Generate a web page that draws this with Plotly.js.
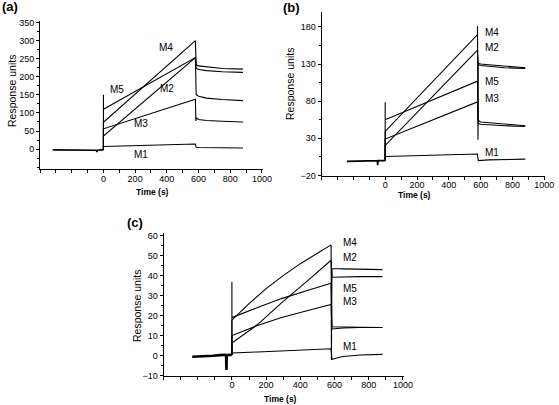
<!DOCTYPE html>
<html><head><meta charset="utf-8">
<script src="https://cdn.plot.ly/plotly-3.0.1.min.js"></script>
<style>html,body{margin:0;padding:0;background:#fff;overflow:hidden;width:559px;height:405px}#chart{width:559px;height:405px;overflow:hidden}</style>
</head><body><div id="chart"></div>
<script>
// ---------- Panel (a) data ----------
const tBaseA = [-320, -200, -100, -45, -41, -37, -10, 0];
const yBaseA = [-2, -2, -2, -3, -8, -3, -2, -2];
const tA_M1 = [0, 0, 580, 585, 600, 650, 750, 880];
const yA_M1 = [-2, 7, 14, 5, 4.5, 4, 3.5, 3];
const tA_M2 = [0, 0, 580, 585, 600, 650, 750, 880];
const yA_M2 = [-2, 36, 253, 151, 146, 141, 137, 134];
const tA_M3 = [0, 0, 580, 583, 587, 600, 650, 750, 880];
const yA_M3 = [-2, 56, 138, 78, 86, 82, 79, 77, 75];
const tA_M4 = [0, 0, 580, 585, 600, 650, 750, 880];
const yA_M4 = [-2, 74, 300, 233, 230, 227, 223, 221];
const tA_M5 = [0, 0, 0, 580, 585, 600, 650, 750, 880];
const yA_M5 = [-2, 150, 110, 253, 223, 220, 217, 214, 212];

// ---------- Panel (b) data ----------
const tBaseB = [-240, -150, -80, -50, -47, -44, -10, 0];
const yBaseB = [-1, -0.5, 0, 0, -6, 0, 0, 0];
const tB_M1 = [0, 0, 580, 585, 650, 750, 880];
const yB_M1 = [0, 5.6, 9, 0, 1, 1.5, 2];
const tB_M2 = [0, 0, 580, 585, 600, 650, 750, 880];
const yB_M2 = [0, 20.5, 148.6, 129, 128, 127, 125, 124];
const tB_M3 = [0, 0, 580, 585, 600, 650, 750, 880];
const yB_M3 = [0, 29, 79, 50, 49, 48, 47, 46];
const tB_M4 = [0, 0, 580, 580, 583, 585, 600, 650, 750, 880];
const yB_M4 = [0, 39.4, 169.7, 181, 28, 131, 130, 129, 127, 125];
const tB_M5 = [0, 0, 0, 580, 585, 600, 650, 750, 880];
const yB_M5 = [0, 78.5, 55, 107, 54, 52, 51, 49, 47];

// ---------- Panel (c) data ----------
const tBaseC = [-232, -190, -150, -110, -70, -40, -34, -32, -30, -15, 0];
const yBaseC = [-0.6, -0.5, -0.3, -0.1, 0.2, 0.4, 0, -7.2, 0.2, 0.4, 0.3];
const tC_M1 = [0, 0, 150, 300, 450, 580, 585, 600, 650, 750, 880];
const yC_M1 = [0.3, 1.3, 1.8, 2.3, 2.9, 3.4, -2, -1.5, -0.5, 0.3, 0.6];
const tC_M2 = [0, 0, 150, 290, 450, 580, 585, 650, 750, 880];
const yC_M2 = [0.3, 6.2, 15.5, 26.4, 38, 47.7, 39.2, 39.4, 39.5, 39.5];
const tC_M3 = [0, 0, 150, 290, 450, 580, 585, 650, 750, 880];
const yC_M3 = [0.3, 10, 15, 19, 22.7, 25.6, 13.3, 13.8, 14, 14];
const tC_M4 = [0, 0, 100, 200, 300, 400, 500, 580, 582, 585, 650, 750, 880];
const yC_M4 = [0.3, 17.7, 26, 33.5, 40, 46, 51.2, 55.4, -2.3, 43.6, 43.4, 43.2, 43];
const tC_M5 = [0, 0, 0, 150, 290, 450, 580, 585, 650, 750, 880];
const yC_M5 = [0.3, 37, 19, 24, 28.5, 32.8, 36.2, 14.4, 14.2, 14.1, 14];

// ---------- Labels ----------
const xTickVals = [-400, -300, -200, -100, 0, 100, 200, 300, 400, 500, 600, 700, 800, 900, 1000];
const xTickText = ['', '', '', '', '0', '', '200', '', '400', '', '600', '', '800', '', '1000'];
const yTicksA = [0, 50, 100, 150, 200, 250, 300, 350];
const yTicksB = [-20, 30, 80, 130, 180];
const yTicksC = [-10, 0, 10, 20, 30, 40, 50, 60];
const seriesNames = ['M1', 'M2', 'M3', 'M4', 'M5'];
// label anchors per panel [t, value] for M1..M5
const labA = [[236, -14], [401, 167], [239, 70], [395, 281], [86, 166]];
const labB = [[615, 11], [615, 152.6], [615, 83.6], [615, 172], [615, 106]];
const labC = [[635, 4.6], [635, 49.2], [635, 27.3], [635, 56.6], [635, 33.5]];

const FONT = 'Arial, "Liberation Sans", sans-serif';

function tr(x, y, xa, ya, w) {
  return {x: x, y: y, xaxis: xa, yaxis: ya, type: 'scatter', mode: 'lines',
          line: {color: '#000', width: w || 1.1}, hoverinfo: 'skip', showlegend: false};
}

const traces = [
  tr(tBaseA, yBaseA, 'x', 'y', 1.6),
  tr(tA_M1, yA_M1, 'x', 'y'), tr(tA_M2, yA_M2, 'x', 'y'), tr(tA_M3, yA_M3, 'x', 'y'),
  tr(tA_M4, yA_M4, 'x', 'y'), tr(tA_M5, yA_M5, 'x', 'y'),
  tr(tBaseB, yBaseB, 'x2', 'y2', 1.6),
  tr(tB_M1, yB_M1, 'x2', 'y2'), tr(tB_M2, yB_M2, 'x2', 'y2'), tr(tB_M3, yB_M3, 'x2', 'y2'),
  tr(tB_M4, yB_M4, 'x2', 'y2'), tr(tB_M5, yB_M5, 'x2', 'y2'),
  tr(tBaseC, yBaseC, 'x3', 'y3', 2.6),
  tr(tC_M1, yC_M1, 'x3', 'y3'), tr(tC_M2, yC_M2, 'x3', 'y3'), tr(tC_M3, yC_M3, 'x3', 'y3'),
  tr(tC_M4, yC_M4, 'x3', 'y3'), tr(tC_M5, yC_M5, 'x3', 'y3')
];

function xax(domain, anchor) {
  return {domain: domain, anchor: anchor, range: [-400, 1004], tickmode: 'array',
          tickvals: xTickVals, ticktext: xTickText, ticks: 'outside', ticklen: 3,
          tickcolor: '#000', showline: true, linecolor: '#000', linewidth: 1,
          ticklabelstandoff: -2, ticklabeloverflow: 'allow', automargin: false,
          showgrid: false, zeroline: false, tickfont: {family: FONT, size: 9, color: '#000'}};
}
function yax(domain, anchor, range, vals, minorStep) {
  return {domain: domain, anchor: anchor, range: range, tickmode: 'array', tickvals: vals,
          ticks: 'outside', ticklen: 3, tickcolor: '#000', showline: true, linecolor: '#000',
          linewidth: 1, showgrid: false, zeroline: false, automargin: false,
          minor: {tickmode: 'linear', tick0: vals[0], dtick: minorStep, ticks: 'outside', ticklen: 2, tickcolor: '#000', showgrid: false},
          tickfont: {family: FONT, size: 9, color: '#000'}};
}

const W = 559, H = 405;
function px(x) { return x / W; }
function py(y) { return 1 - y / H; }

const ann = [];
function txt(x, y, text, size, bold, angle, xanchor) {
  ann.push({xref: 'paper', yref: 'paper', x: px(x), y: py(y), text: bold ? '<b>' + text + '</b>' : text,
            showarrow: false, textangle: angle || 0, xanchor: xanchor || 'center', yanchor: 'middle',
            font: {family: FONT, size: size, color: '#000'}});
}
txt(0, 7, '(a)', 13, true, 0, 'left');
txt(281, 8, '(b)', 13, true, 0, 'left');
txt(125, 222, '(c)', 13, true, 0, 'left');
txt(12, 91, 'Response units', 10.5, false, -90);
txt(290, 84, 'Response units', 10.5, false, -90);
txt(137, 306, 'Response units', 10.5, false, -90);
txt(152, 192, 'Time (s)', 8.5, true);
txt(414, 195, 'Time (s)', 8.5, true);
txt(280, 399, 'Time (s)', 8.5, true);

function mlabels(list, xr, yr, anchor) {
  list.forEach((p, i) => ann.push({xref: xr, yref: yr, x: p[0], y: p[1], text: seriesNames[i],
    showarrow: false, xanchor: anchor, yanchor: 'middle', font: {family: FONT, size: 10, color: '#000'}}));
}
mlabels(labA, 'x', 'y', 'center');
mlabels(labB, 'x2', 'y2', 'left');
mlabels(labC, 'x3', 'y3', 'left');

const layout = {
  width: W, height: H, margin: {l: 0, r: 0, t: 0, b: 0},
  paper_bgcolor: '#fff', plot_bgcolor: 'rgba(0,0,0,0)', showlegend: false,
  xaxis: xax([px(40), px(262.6)], 'y'),
  yaxis: yax([py(169), py(20.7)], 'x', [-55, 355], yTicksA, 25),
  xaxis2: xax([px(321.5), px(545)], 'y2'),
  yaxis2: yax([py(175.5), py(12)], 'x2', [-20, 200], yTicksB, 25),
  xaxis3: xax([px(163.5), px(403.6)], 'y3'),
  yaxis3: yax([py(375.5), py(232.7)], 'x3', [-10, 61.5], yTicksC, 5),
  annotations: ann
};

Plotly.newPlot('chart', traces, layout, {staticPlot: true, displayModeBar: false});
</script></body></html>
